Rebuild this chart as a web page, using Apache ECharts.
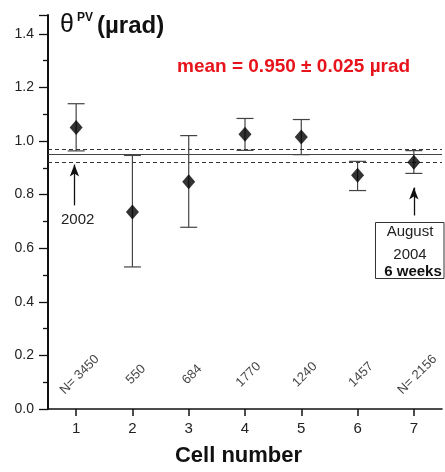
<!DOCTYPE html>
<html>
<head>
<meta charset="utf-8">
<script src="https://cdn.jsdelivr.net/npm/echarts@6/dist/echarts.min.js"></script>
<style>
  html, body { margin: 0; padding: 0; background: #fff; }
  #chart { width: 445px; height: 472px; }
</style>
</head>
<body>
<div id="chart"></div>
<script>
// datos
const cells = [1, 2, 3, 4, 5, 6, 7];
const theta = [1.05, 0.735, 0.848, 1.025, 1.015, 0.872, 0.921];
const errLow = [0.963, 0.53, 0.678, 0.965, 0.949, 0.815, 0.879];
const errHigh = [1.139, 0.946, 1.02, 1.084, 1.08, 0.924, 0.964];
const nLabels = ['N= 3450', '550', '684', '1770', '1240', '1457', 'N= 2156'];
const meanVal = 0.95;
const meanErr = 0.025;
const yTicks = [0, 0.2, 0.4, 0.6, 0.8, 1.0, 1.2, 1.4];
const yMinor = [0.1, 0.3, 0.5, 0.7, 0.9, 1.1, 1.3];
const yMax = 1.47;

const font = 'Liberation Sans, Arial, Helvetica, sans-serif';

const chart = echarts.init(document.getElementById('chart'));

const option = {
    animation: false,
    textStyle: { fontFamily: font },
    grid: { left: 48, right: 3, top: 15, bottom: 63 },
    xAxis: {
        type: 'value',
        min: 0.5,
        max: 7.5,
        axisLine: { lineStyle: { color: '#111', width: 1.6 } },
        axisTick: { customValues: cells, length: 7, lineStyle: { color: '#111', width: 1.5 } },
        axisLabel: { customValues: cells, fontSize: 15, color: '#222', margin: 12 },
        splitLine: { show: false },
        name: 'Cell number',
        nameLocation: 'middle',
        nameGap: 36,
        nameTextStyle: { fontSize: 22, fontWeight: 'bold', color: '#111', padding: [0, 13, 0, 0] }
    },
    yAxis: [
        {
            type: 'value',
            min: 0,
            max: yMax,
            axisLine: { show: true, lineStyle: { color: '#111', width: 2 } },
            axisTick: { customValues: yTicks.concat([yMax]), length: 9, lineStyle: { color: '#111', width: 1.3 } },
            axisLabel: {
                customValues: yTicks,
                fontSize: 14,
                color: '#222',
                margin: 14,
                formatter: v => v.toFixed(1)
            },
            splitLine: { show: false }
        },
        {
            type: 'value',
            min: 0,
            max: yMax,
            position: 'left',
            axisLine: { show: false },
            axisTick: { show: true, customValues: yMinor, length: 5, lineStyle: { color: '#111', width: 1.3 } },
            axisLabel: { show: false },
            splitLine: { show: false }
        }
    ],
    series: [
        {
            // barras de error
            type: 'custom',
            data: cells.map((c, i) => [c, errLow[i], errHigh[i]]),
            renderItem: (params, api) => {
                const lo = api.coord([api.value(0), api.value(1)]);
                const hi = api.coord([api.value(0), api.value(2)]);
                const w = 8.5;
                const style = { stroke: '#444', lineWidth: 1.2 };
                return {
                    type: 'group',
                    children: [
                        { type: 'line', shape: { x1: lo[0], y1: lo[1], x2: hi[0], y2: hi[1] }, style },
                        { type: 'line', shape: { x1: lo[0] - w, y1: lo[1], x2: lo[0] + w, y2: lo[1] }, style },
                        { type: 'line', shape: { x1: hi[0] - w, y1: hi[1], x2: hi[0] + w, y2: hi[1] }, style }
                    ]
                };
            },
            z: 2
        },
        {
            type: 'scatter',
            data: cells.map((c, i) => [c, theta[i]]),
            symbol: 'diamond',
            symbolSize: [13, 15],
            itemStyle: { color: '#000' },
            z: 5,
            markLine: {
                silent: true,
                symbol: 'none',
                label: { show: false },
                data: [
                    { yAxis: meanVal, lineStyle: { type: 'solid', color: '#444', width: 1.2 } },
                    { yAxis: meanVal + meanErr, lineStyle: { type: [4, 3], color: '#333', width: 1 } },
                    { yAxis: meanVal - meanErr, lineStyle: { type: [4, 3], color: '#333', width: 1 } },
                    [
                        { coord: [0.97, 0.76], symbol: 'none' },
                        { coord: [0.97, 0.912], symbol: 'arrow', symbolSize: [7, 12] }
                    ],
                    [
                        { coord: [7, 0.722], symbol: 'none' },
                        { coord: [7, 0.826], symbol: 'arrow', symbolSize: [7, 12] }
                    ]
                ],
                lineStyle: { color: '#111', width: 1.3, type: 'solid' }
            }
        },
        {
            // etiquetas N
            type: 'scatter',
            data: cells.map(c => [c, 0.115]),
            symbolSize: 0,
            itemStyle: { color: 'transparent' },
            label: {
                show: true,
                position: 'inside',
                rotate: 45,
                offset: [5, 0],
                fontSize: 13,
                color: '#111',
                formatter: p => nLabels[p.dataIndex]
            }
        }
    ],
    graphic: [
        { type: 'text', left: 60, top: 13, style: { text: 'θ', font: 'normal 25px ' + font, fill: '#111' } },
        { type: 'text', left: 77, top: 12, style: { text: 'PV', font: 'bold 12px ' + font, fill: '#111' } },
        { type: 'text', left: 97, top: 14, style: { text: '(µrad)', font: 'bold 24px ' + font, fill: '#111' } },
        { type: 'text', left: 177, top: 57, style: { text: 'mean = 0.950 ± 0.025 µrad', font: 'bold 19px ' + font, fill: '#e8141c' } },
        { type: 'text', left: 61, top: 212, style: { text: '2002', font: 'normal 15px ' + font, fill: '#222' } },
        { type: 'rect', shape: { x: 375.5, y: 222.5, width: 68.5, height: 56 }, style: { fill: 'none', stroke: '#333', lineWidth: 1 } },
        { type: 'text', x: 410, y: 232, style: { text: 'August', font: 'normal 15px ' + font, fill: '#222', align: 'center', verticalAlign: 'middle' } },
        { type: 'text', x: 410, y: 255, style: { text: '2004', font: 'normal 15px ' + font, fill: '#222', align: 'center', verticalAlign: 'middle' } },
        { type: 'text', x: 413, y: 272, style: { text: '6 weeks', font: 'bold 15px ' + font, fill: '#111', align: 'center', verticalAlign: 'middle' } }
    ]
};

option && chart.setOption(option);
</script>
</body>
</html>
